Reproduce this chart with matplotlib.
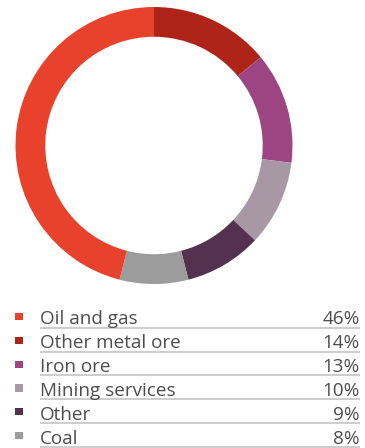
import matplotlib.pyplot as plt

# Share of exposure by sector (clockwise from 12 o'clock)
sectors = ["Other metal ore", "Iron ore", "Mining services", "Other", "Coal", "Oil and gas"]
shares = [14, 13, 10, 9, 8, 46]
colors = ["#AF2418", "#9D4583", "#A898A6", "#553150", "#9C9C9C", "#E8412C"]

# Legend order as listed below the ring
legend_order = ["Oil and gas", "Other metal ore", "Iron ore", "Mining services", "Other", "Coal"]

W, H = 365, 448
fig = plt.figure(figsize=(W / 100, H / 100), dpi=100)
plt.rcParams["font.family"] = ["Open Sans", "DejaVu Sans"]

# Ring chart
cx, cy, r = 154, 145.5, 138.5
ax = fig.add_axes([(cx - r) / W, (H - cy - r) / H, 2 * r / W, 2 * r / H])
ax.pie(shares, colors=colors, startangle=90, counterclock=False, radius=1,
       wedgeprops=dict(width=0.215, edgecolor="none"))
ax.set_xlim(-1, 1)
ax.set_ylim(-1, 1)
ax.set_aspect("equal")
ax.axis("off")

# Legend table
lx = fig.add_axes([0, 0, 1, 1])
lx.set_xlim(0, W)
lx.set_ylim(H, 0)
lx.axis("off")

color_of = dict(zip(sectors, colors))
share_of = dict(zip(sectors, shares))
row0, step = 324.5, 23.8
for i, name in enumerate(legend_order):
    base = row0 + i * step
    lx.add_patch(plt.Rectangle((15.3, base - 11.5), 7.2, 7.2, color=color_of[name], lw=0))
    lx.text(40, base, name, fontsize=13.6, color="#4D4D4D", va="baseline", ha="left")
    lx.text(360, base, f"{share_of[name]}%", fontsize=13.6, color="#4D4D4D",
            va="baseline", ha="right")
    lx.plot([40, 360], [base + 3.3, base + 3.3], color="#C8C8C8", lw=1.3,
            solid_capstyle="butt")

fig.savefig("out.png", dpi=100)
